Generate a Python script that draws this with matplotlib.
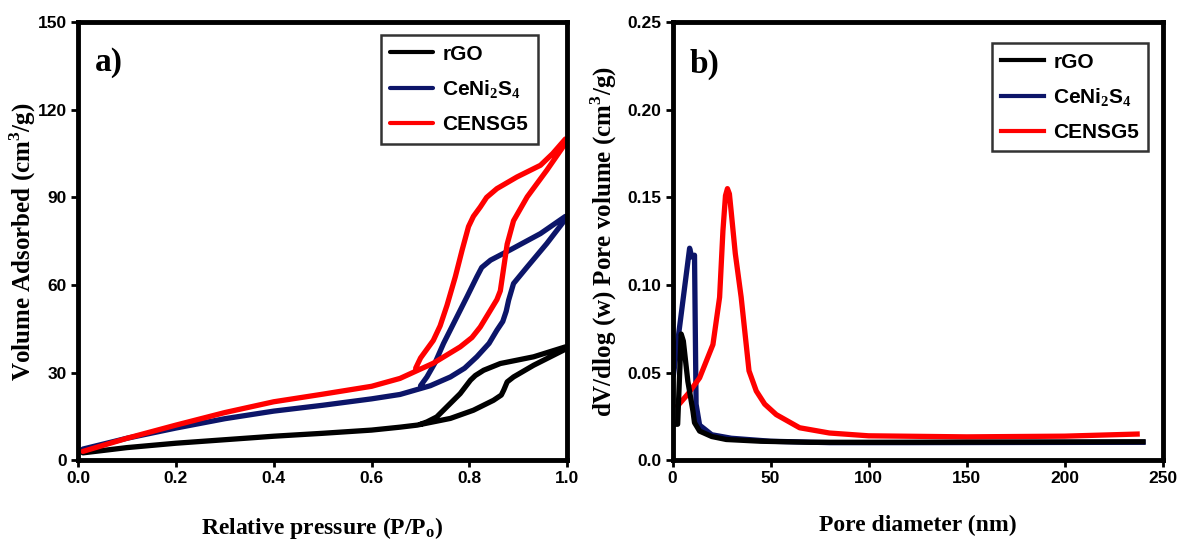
import numpy as np
import matplotlib
matplotlib.use("Agg")
import matplotlib.pyplot as plt
from matplotlib.ticker import FormatStrFormatter

plt.rcParams['font.family'] = ['Liberation Sans', 'DejaVu Sans']
plt.rcParams['font.weight'] = 'bold'
plt.rcParams['mathtext.fontset'] = 'custom'
plt.rcParams['mathtext.rm'] = 'Liberation Sans:bold'
plt.rcParams['mathtext.it'] = 'Liberation Sans:bold'

# ---- panel a: N2 isotherms (adsorption branch, then desorption branch) ----
rgo_ads_p = [0.01, 0.1, 0.2, 0.3, 0.4, 0.5, 0.6, 0.658, 0.693, 0.761, 0.808, 0.849, 0.865, 0.870, 0.877, 0.89, 0.931, 0.996]
rgo_ads_v = [2.5, 4.3, 5.8, 7.0, 8.2, 9.2, 10.3, 11.3, 12.0, 14.3, 17.1, 20.5, 22.3, 24.0, 26.8, 28.5, 32.5, 38.0]
rgo_des_p = [0.996, 0.931, 0.863, 0.829, 0.812, 0.802, 0.781, 0.754, 0.733, 0.713, 0.70]
rgo_des_v = [38.8, 35.4, 33.1, 30.8, 29.0, 27.4, 22.8, 18.3, 14.8, 13.1, 12.3]

ceni_ads_p = [0.01, 0.1, 0.2, 0.3, 0.4, 0.5, 0.6, 0.658, 0.72, 0.761, 0.79, 0.815, 0.84, 0.856, 0.868, 0.875, 0.88, 0.89, 0.918, 0.958, 0.996]
ceni_ads_v = [3.8, 7.5, 11.0, 14.2, 16.8, 18.8, 21.0, 22.5, 25.5, 28.5, 31.5, 35.4, 40.0, 44.5, 47.5, 51.0, 54.8, 60.5, 66.2, 74.2, 82.5]
ceni_des_p = [0.996, 0.945, 0.883, 0.843, 0.825, 0.815, 0.795, 0.774, 0.747, 0.73, 0.713, 0.70]
ceni_des_v = [83.5, 77.6, 72.0, 68.5, 66.0, 62.8, 56.0, 49.0, 40.0, 33.5, 28.5, 25.5]

censg_ads_p = [0.01, 0.1, 0.2, 0.3, 0.4, 0.5, 0.6, 0.658, 0.726, 0.781, 0.805, 0.822, 0.843, 0.856, 0.863, 0.870, 0.877, 0.89, 0.918, 0.958, 0.996]
censg_ads_v = [3.0, 7.5, 12.0, 16.3, 20.0, 22.6, 25.3, 28.0, 33.2, 38.8, 42.0, 45.6, 51.4, 55.0, 58.0, 66.0, 74.0, 82.0, 90.2, 99.3, 108.5]
censg_des_p = [0.996, 0.97, 0.945, 0.897, 0.856, 0.835, 0.822, 0.808, 0.798, 0.785, 0.771, 0.754, 0.74, 0.726, 0.70, 0.69]
censg_des_v = [110.0, 105.0, 101.0, 97.0, 93.0, 90.0, 86.7, 83.5, 80.0, 72.0, 62.8, 53.0, 46.0, 41.0, 35.0, 31.5]

# ---- panel b: pore size distribution ----
rgo_d = [0.4, 2.6, 4.4, 5.5, 7.8, 10.4, 11.2, 13.8, 20, 27.4, 45, 70, 100, 150, 200, 240]
rgo_w = [0.0205, 0.0205, 0.072, 0.068, 0.045, 0.028, 0.0214, 0.0166, 0.0135, 0.0118, 0.0108, 0.0102, 0.0102, 0.0103, 0.0104, 0.0105]

ceni_d = [0.5, 8.7, 9.8, 11.2, 12.0, 13.8, 20, 30, 50, 80, 120, 180, 240]
ceni_w = [0.049, 0.121, 0.116, 0.117, 0.032, 0.020, 0.0145, 0.0125, 0.0108, 0.0100, 0.0100, 0.0101, 0.0102]

censg_d = [2.6, 8, 13.8, 20.6, 24, 25.7, 27, 28, 29, 29.9, 32, 35, 39, 42.7, 47, 52.9, 64.8, 80, 100, 150, 200, 237]
censg_w = [0.031, 0.038, 0.047, 0.066, 0.093, 0.131, 0.151, 0.155, 0.152, 0.142, 0.118, 0.093, 0.051, 0.0395, 0.032, 0.026, 0.0185, 0.0155, 0.0139, 0.0133, 0.0137, 0.0149]

labels = ['rGO', r'CeNi$_2$S$_4$', 'CENSG5']
colors = ['black', '#0c1569', '#ff0000']

fig = plt.figure(figsize=(11.82, 5.42), dpi=100)
ax1 = fig.add_axes([0.066, 0.151, 0.414, 0.808])
ax2 = fig.add_axes([0.569, 0.151, 0.4146, 0.808])

iso = [(rgo_ads_p + rgo_des_p, rgo_ads_v + rgo_des_v),
       (ceni_ads_p + ceni_des_p, ceni_ads_v + ceni_des_v),
       (censg_ads_p + censg_des_p, censg_ads_v + censg_des_v)]
for (p, v), lab, c in zip(iso, labels, colors):
    ax1.plot(p, v, color=c, lw=3.8, label=lab, solid_joinstyle='round', solid_capstyle='round')

psd = [(rgo_d, rgo_w), (ceni_d, ceni_w), (censg_d, censg_w)]
for i in [1, 0, 2]:
    d, w = psd[i]
    ax2.plot(d, w, color=colors[i], lw=3.8, label=labels[i], solid_joinstyle='round',
             zorder=3 if i == 0 else 2)

ax1.set_xlim(0, 1.0)
ax1.set_ylim(0, 150)
ax1.set_xticks(np.arange(0, 1.01, 0.2))
ax1.set_yticks(np.arange(0, 151, 30))
ax1.xaxis.set_major_formatter(FormatStrFormatter('%.1f'))

ax2.set_xlim(0, 250)
ax2.set_ylim(0, 0.25)
ax2.set_xticks(np.arange(0, 251, 50))
ax2.set_yticks([0, 0.05, 0.10, 0.15, 0.20, 0.25])
ax2.set_yticklabels(['0.0', '0.05', '0.10', '0.15', '0.20', '0.25'])

serif = ['Liberation Serif', 'DejaVu Serif']
ax1.set_xlabel(r'Relative pressure (P/P$_\mathregular{o}$)', fontsize=17, fontweight='bold', family=serif)
ax1.set_ylabel(r'Volume Adsorbed (cm$^\mathregular{3}$/g)', fontsize=18, fontweight='bold', family=serif)
ax2.set_xlabel('Pore diameter (nm)', fontsize=17, fontweight='bold', family=serif)
ax2.set_ylabel(r'dV/dlog (w) Pore volume (cm$^\mathregular{3}$/g)', fontsize=18, fontweight='bold', family=serif)
plt.rcParams['mathtext.rm'] = 'Liberation Serif:bold'

ax1.yaxis.set_label_coords(-0.082, 0.5)
ax2.yaxis.set_label_coords(-0.11, 0.5)
for ax in (ax1, ax2):
    ax.xaxis.set_label_coords(0.5, -0.125)
    for s in ax.spines.values():
        s.set_linewidth(3.5)
    ax.tick_params(direction='out', length=5, width=2, labelsize=12.5, pad=3, top=False, right=False)
    for t in ax.get_xticklabels() + ax.get_yticklabels():
        t.set_fontweight('bold')

ax1.text(0.035, 0.89, 'a)', transform=ax1.transAxes, fontsize=24, fontweight='bold', family=serif, va='baseline')
ax2.text(0.035, 0.885, 'b)', transform=ax2.transAxes, fontsize=24, fontweight='bold', family=serif, va='baseline')

leg_kw = dict(loc='upper right', fontsize=15, frameon=True, fancybox=False, edgecolor='black',
              handlelength=2.05, labelspacing=0.7, borderpad=0.45, handletextpad=0.45, borderaxespad=0)
h1, l1 = ax1.get_legend_handles_labels()
lg1 = ax1.legend(h1, l1, bbox_to_anchor=(0.939, 0.970), **leg_kw)
h2, l2 = ax2.get_legend_handles_labels()
idx = [l2.index(l) for l in labels]
lg2 = ax2.legend([h2[i] for i in idx], labels, bbox_to_anchor=(0.971, 0.952), **leg_kw)
for lg in (lg1, lg2):
    lg.get_frame().set_linewidth(1.8)
    for ln in lg.get_lines():
        ln.set_linewidth(3)

fig.savefig('out.png', dpi=100)
